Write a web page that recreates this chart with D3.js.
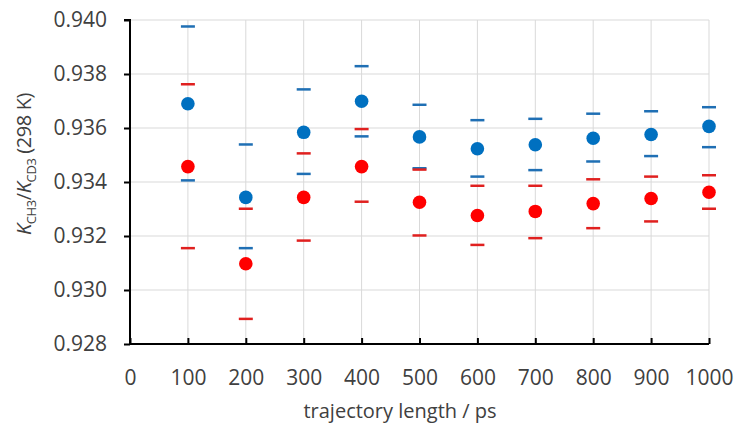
<!DOCTYPE html>
<html>
<head>
<meta charset="utf-8">
<script src="https://cdn.jsdelivr.net/npm/d3@7"></script>
<style>
  body { margin: 0; background: #fff; }
  text { font-family: "Open Sans", sans-serif; fill: #404040; }
</style>
</head>
<body>
<div id="chart"></div>
<script>
const lengths = [100, 200, 300, 400, 500, 600, 700, 800, 900, 1000];

const blueVal = [0.93690, 0.93343, 0.93584, 0.93699, 0.93567, 0.93523, 0.93538, 0.93562, 0.93576, 0.93606];
const blueHi  = [0.93976, 0.93539, 0.93743, 0.93829, 0.93686, 0.93629, 0.93634, 0.93653, 0.93662, 0.93677];
const blueLo  = [0.93406, 0.93155, 0.93430, 0.93569, 0.93451, 0.93420, 0.93444, 0.93476, 0.93496, 0.93529];

const redVal = [0.93457, 0.93097, 0.93343, 0.93457, 0.93325, 0.93276, 0.93291, 0.93320, 0.93339, 0.93362];
const redHi  = [0.93762, 0.93301, 0.93506, 0.93596, 0.93446, 0.93386, 0.93386, 0.93410, 0.93420, 0.93425];
const redLo  = [0.93155, 0.92893, 0.93183, 0.93327, 0.93202, 0.93167, 0.93192, 0.93229, 0.93254, 0.93301];

const xTicks = [0, 100, 200, 300, 400, 500, 600, 700, 800, 900, 1000];
const yTicks = [0.928, 0.930, 0.932, 0.934, 0.936, 0.938, 0.940];

const margin = { top: 20, right: 30, bottom: 84, left: 130 },
      width = 739 - margin.left - margin.right,
      height = 428 - margin.top - margin.bottom;

let svg = d3.select('#chart')
            .append('svg')
              .attr('width', 739)
              .attr('height', 428)
            .append('g')
              .attr('transform', 'translate(' + margin.left + ',' + margin.top + ')');

let x = d3.scaleLinear().domain([0, 1000]).range([0, width]);
let y = d3.scaleLinear().domain([0.928, 0.940]).range([height, 0]);

// grid
svg.append('g').selectAll('line')
  .data(xTicks.slice(1))
  .join('line')
    .attr('x1', d => x(d)).attr('x2', d => x(d))
    .attr('y1', 0).attr('y2', height)
    .attr('stroke', '#d9d9d9').attr('stroke-width', 1);
svg.append('g').selectAll('line')
  .data(yTicks.slice(1))
  .join('line')
    .attr('x1', 0).attr('x2', width)
    .attr('y1', d => y(d)).attr('y2', d => y(d))
    .attr('stroke', '#d9d9d9').attr('stroke-width', 1);

// axes
let xAxis = svg.append('g')
  .attr('transform', 'translate(0,' + height + ')')
  .call(d3.axisBottom(x).tickValues(xTicks).tickSize(-6).tickPadding(26).tickFormat(d3.format('d')));
let yAxis = svg.append('g')
  .call(d3.axisLeft(y).tickValues(yTicks).tickSize(6).tickPadding(17).tickFormat(d3.format('.3f')));

[xAxis, yAxis].forEach(a => {
  a.select('.domain').attr('stroke', '#000').attr('stroke-width', 2);
  a.selectAll('.tick line').attr('stroke', '#000').attr('stroke-width', 2);
  a.selectAll('.tick text').attr('font-size', 21).attr('fill', '#404040')
    .style('font-family', '"Open Sans", sans-serif');
});
xAxis.select('.domain').attr('d', 'M0,0H' + width);
yAxis.select('.domain').attr('d', 'M-6,0H0V' + height);

// error caps and points
function series(vals, hi, lo, fill, capColor) {
  let g = svg.append('g');
  g.selectAll('line.hi').data(lengths).join('line')
    .attr('class', 'hi')
    .attr('x1', d => x(d) - 7).attr('x2', d => x(d) + 7)
    .attr('y1', (d, i) => y(hi[i])).attr('y2', (d, i) => y(hi[i]))
    .attr('stroke', capColor).attr('stroke-width', 2.5);
  g.selectAll('line.lo').data(lengths).join('line')
    .attr('class', 'lo')
    .attr('x1', d => x(d) - 7).attr('x2', d => x(d) + 7)
    .attr('y1', (d, i) => y(lo[i])).attr('y2', (d, i) => y(lo[i]))
    .attr('stroke', capColor).attr('stroke-width', 2.5);
  g.selectAll('circle').data(lengths).join('circle')
    .attr('cx', d => x(d))
    .attr('cy', (d, i) => y(vals[i]))
    .attr('r', 6.8)
    .attr('fill', fill);
}
series(blueVal, blueHi, blueLo, '#0070c0', '#1f6fb4');
series(redVal, redHi, redLo, '#ff0000', '#e0201f');

// axis titles
svg.append('text')
  .attr('x', 400 - margin.left)
  .attr('y', height + 74)
  .attr('text-anchor', 'middle')
  .attr('font-size', 20)
  .text('trajectory length / ps');

let yt = svg.append('text')
  .attr('transform', 'translate(-99,144) rotate(-90)')
  .attr('text-anchor', 'middle')
  .attr('font-size', 20)
  .attr('letter-spacing', -0.4);
yt.append('tspan').attr('font-style', 'italic').text('K');
yt.append('tspan').attr('font-size', 13).attr('dy', 5).text('CH3');
yt.append('tspan').attr('dy', -5).text('/');
yt.append('tspan').attr('font-style', 'italic').text('K');
yt.append('tspan').attr('font-size', 13).attr('dy', 5).text('CD3');
yt.append('tspan').attr('dy', -5).text(' (298 K)');
</script>
</body>
</html>
